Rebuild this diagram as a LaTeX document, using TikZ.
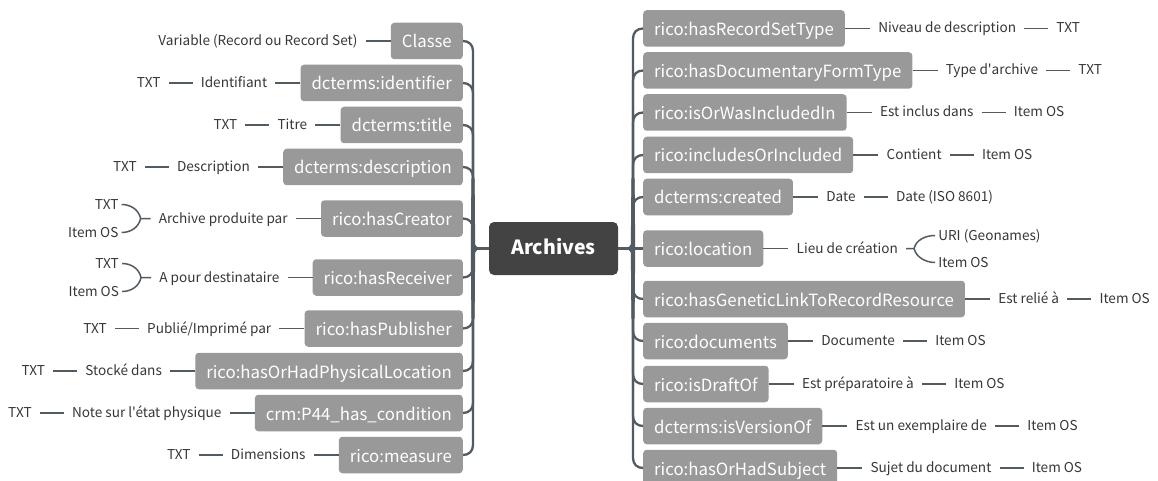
\documentclass[tikz,border=0pt]{standalone}
\usepackage{fontspec}
\newfontfamily\srcsans[Ligatures=TeXOff]{Noto Sans CJK SC}
\usetikzlibrary{calc}
\definecolor{boxgray}{RGB}{153,153,153}
\definecolor{rootgray}{RGB}{67,67,67}
\definecolor{wire}{RGB}{82,91,97}
\definecolor{inkgray}{RGB}{55,55,55}

% main branches: root -> junction -> trunk -> hook into the topic box
\newcommand\lbranch[2]{%
  \draw[branch] (root.west) -- (jl)
    .. controls +(-4,0) and +(0,{-5*(#2)}) .. ($(jl)+(-5,{10*(#2)})$)
    -- ($(#1.east)+(10,{-10*(#2)})$)
    .. controls +(0,{6*(#2)}) and +(6,0) .. (#1.east);}
\newcommand\rbranch[2]{%
  \draw[branch] (root.east) -- (jr)
    .. controls +(4,0) and +(0,{-5*(#2)}) .. ($(jr)+(5,{10*(#2)})$)
    -- ($(#1.west)+(-10,{-10*(#2)})$)
    .. controls +(0,{6*(#2)}) and +(-6,0) .. (#1.west);}
% leaf chains: topic -- label -- value
\newcommand\lchain[3]{%
  \node[leaf,anchor=east] (#1a) at ($(#1.west)+(-25,0)$) {#2};
  \node[leaf,anchor=east] (#1b) at ($(#1a.west)+(-24,0)$) {#3};
  \draw[twig] (#1.west) -- (#1a); \draw[twig] (#1a) -- (#1b);}
\newcommand\rchain[3]{%
  \node[leaf,anchor=west] (#1a) at ($(#1.east)+(25,0)$) {#2};
  \node[leaf,anchor=west] (#1b) at ($(#1a.east)+(24,0)$) {#3};
  \draw[twig] (#1.east) -- (#1a); \draw[twig] (#1a) -- (#1b);}

\begin{document}
\begin{tikzpicture}[x=1pt,y=-1pt,
  topic/.style={fill=boxgray,text=white,rounded corners=3.5pt,
    font=\srcsans\fontsize{16.8}{20}\selectfont,inner xsep=11,inner ysep=0,
    minimum height=36.5,text height=15,text depth=1},
  root/.style={fill=rootgray,text=white,rounded corners=5pt,
    font=\srcsans\bfseries\fontsize{19.5}{23}\selectfont,
    minimum width=129,minimum height=53,inner sep=0,text height=16,text depth=4},
  leaf/.style={text=inkgray,font=\srcsans\fontsize{13.6}{16}\selectfont,
    inner xsep=8,inner ysep=1,text height=11.5,text depth=2.5},
  branch/.style={draw=wire,line width=2.3},
  twig/.style={draw=wire,line width=1.5},
]
\clip (0,0) rectangle (1158,481);
\fill[white] (0,0) rectangle (1158,481);

% central topic
\node[root] (root) at (553.5,248.5) {Archives};
\coordinate (jl) at (478,248.5);
\coordinate (jr) at (628,248.5);

% left topics
\node[topic,anchor=east] (l1)  at (463,41)    {Classe};
\node[topic,anchor=east] (l2)  at (463,83)    {dcterms:identifier};
\node[topic,anchor=east] (l3)  at (463,125)   {dcterms:title};
\node[topic,anchor=east] (l4)  at (463,167)   {dcterms:description};
\node[topic,anchor=east] (l5)  at (463,218.5) {rico:hasCreator};
\node[topic,anchor=east] (l6)  at (463,277.5) {rico:hasReceiver};
\node[topic,anchor=east] (l7)  at (463,328.5) {rico:hasPublisher};
\node[topic,anchor=east] (l8)  at (463,371)   {rico:hasOrHadPhysicalLocation};
\node[topic,anchor=east] (l9)  at (463,413)   {crm:P44\_has\_condition};
\node[topic,anchor=east] (l10) at (463,455)   {rico:measure};

% right topics
\node[topic,anchor=west] (r1)  at (643,28.5)  {rico:hasRecordSetType};
\node[topic,anchor=west] (r2)  at (643,70.5)  {rico:hasDocumentaryFormType};
\node[topic,anchor=west] (r3)  at (643,112.5) {rico:isOrWasIncludedIn};
\node[topic,anchor=west] (r4)  at (643,155)   {rico:includesOrIncluded};
\node[topic,anchor=west] (r5)  at (643,197)   {dcterms:created};
\node[topic,anchor=west] (r6)  at (643,248.5) {rico:location};
\node[topic,anchor=west] (r7)  at (643,299)   {rico:hasGeneticLinkToRecordResource};
\node[topic,anchor=west] (r8)  at (643,341)   {rico:documents};
\node[topic,anchor=west] (r9)  at (643,384)   {rico:isDraftOf};
\node[topic,anchor=west] (r10) at (643,426)   {dcterms:isVersionOf};
\node[topic,anchor=west] (r11) at (643,468)   {rico:hasOrHadSubject};

% branches
\lbranch{l1}{-1} \lbranch{l2}{-1} \lbranch{l3}{-1} \lbranch{l4}{-1} \lbranch{l5}{-1}
\lbranch{l6}{1} \lbranch{l7}{1} \lbranch{l8}{1} \lbranch{l9}{1} \lbranch{l10}{1}
\rbranch{r1}{-1} \rbranch{r2}{-1} \rbranch{r3}{-1} \rbranch{r4}{-1} \rbranch{r5}{-1}
\draw[branch] (root.east) -- (r6.west);
\rbranch{r7}{1} \rbranch{r8}{1} \rbranch{r9}{1} \rbranch{r10}{1} \rbranch{r11}{1}
% thicker middle part of the two trunks
\fill[wire] ($(jl)+(-6.6,-70)$) -- ($(jl)+(-3.4,-70)$) -- ($(jl)+(-2.8,0)$)
  -- ($(jl)+(-3.4,70)$) -- ($(jl)+(-6.6,70)$) -- ($(jl)+(-7.2,0)$) -- cycle;
\fill[wire] ($(jr)+(6.6,-70)$) -- ($(jr)+(3.4,-70)$) -- ($(jr)+(2.8,0)$)
  -- ($(jr)+(3.4,70)$) -- ($(jr)+(6.6,70)$) -- ($(jr)+(7.2,0)$) -- cycle;

% left leaves
\node[leaf,anchor=east] (l1a) at ($(l1.west)+(-25,0)$) {Variable (Record ou Record Set)};
\draw[twig] (l1.west) -- (l1a);
\lchain{l2}{Identifiant}{TXT}
\lchain{l3}{Titre}{TXT}
\lchain{l4}{Description}{TXT}
\lchain{l7}{Publié/Imprimé par}{TXT}
\lchain{l8}{Stocké dans}{TXT}
\lchain{l9}{Note sur l'état physique}{TXT}
\lchain{l10}{Dimensions}{TXT}

% left forks
\foreach \t/\lab in {l5/Archive produite par, l6/A pour destinataire}{
  \node[leaf,anchor=east] (\t a) at ($(\t.west)+(-25,0)$) {\lab};
  \draw[twig] (\t.west) -- (\t a);
  \coordinate (\t k) at ($(\t a.west)+(-10,0)$);
  \node[leaf,anchor=east,inner xsep=3] (\t t) at ($(\t a.west)+(-29,-14)$) {TXT};
  \node[leaf,anchor=east,inner xsep=3] (\t o) at ($(\t a.west)+(-29,14)$) {Item OS};
  \draw[twig] (\t a.west) -- (\t k) .. controls +(-2,-9) and +(9,0) .. (\t t.east);
  \draw[twig] (\t k) .. controls +(-2,9) and +(9,0) .. (\t o.east);
}

% right leaves
\rchain{r1}{Niveau de description}{TXT}
\rchain{r2}{Type d'archive}{TXT}
\rchain{r3}{Est inclus dans}{Item OS}
\rchain{r4}{Contient}{Item OS}
\rchain{r5}{Date}{Date (ISO 8601)}
\rchain{r7}{Est relié à}{Item OS}
\rchain{r8}{Documente}{Item OS}
\rchain{r9}{Est préparatoire à}{Item OS}
\rchain{r10}{Est un exemplaire de}{Item OS}
\rchain{r11}{Sujet du document}{Item OS}

% right fork
\node[leaf,anchor=west] (r6a) at ($(r6.east)+(25,0)$) {Lieu de création};
\draw[twig] (r6.east) -- (r6a);
\coordinate (r6k) at ($(r6a.east)+(8,0)$);
\node[leaf,anchor=west,inner xsep=3] (r6t) at ($(r6a.east)+(29,-13)$) {URI (Geonames)};
\node[leaf,anchor=west,inner xsep=3] (r6o) at ($(r6a.east)+(29,14)$) {Item OS};
\draw[twig] (r6a.east) -- (r6k) .. controls +(2,-9) and +(-9,0) .. (r6t.west);
\draw[twig] (r6k) .. controls +(2,9) and +(-9,0) .. (r6o.west);
\end{tikzpicture}
\end{document}
